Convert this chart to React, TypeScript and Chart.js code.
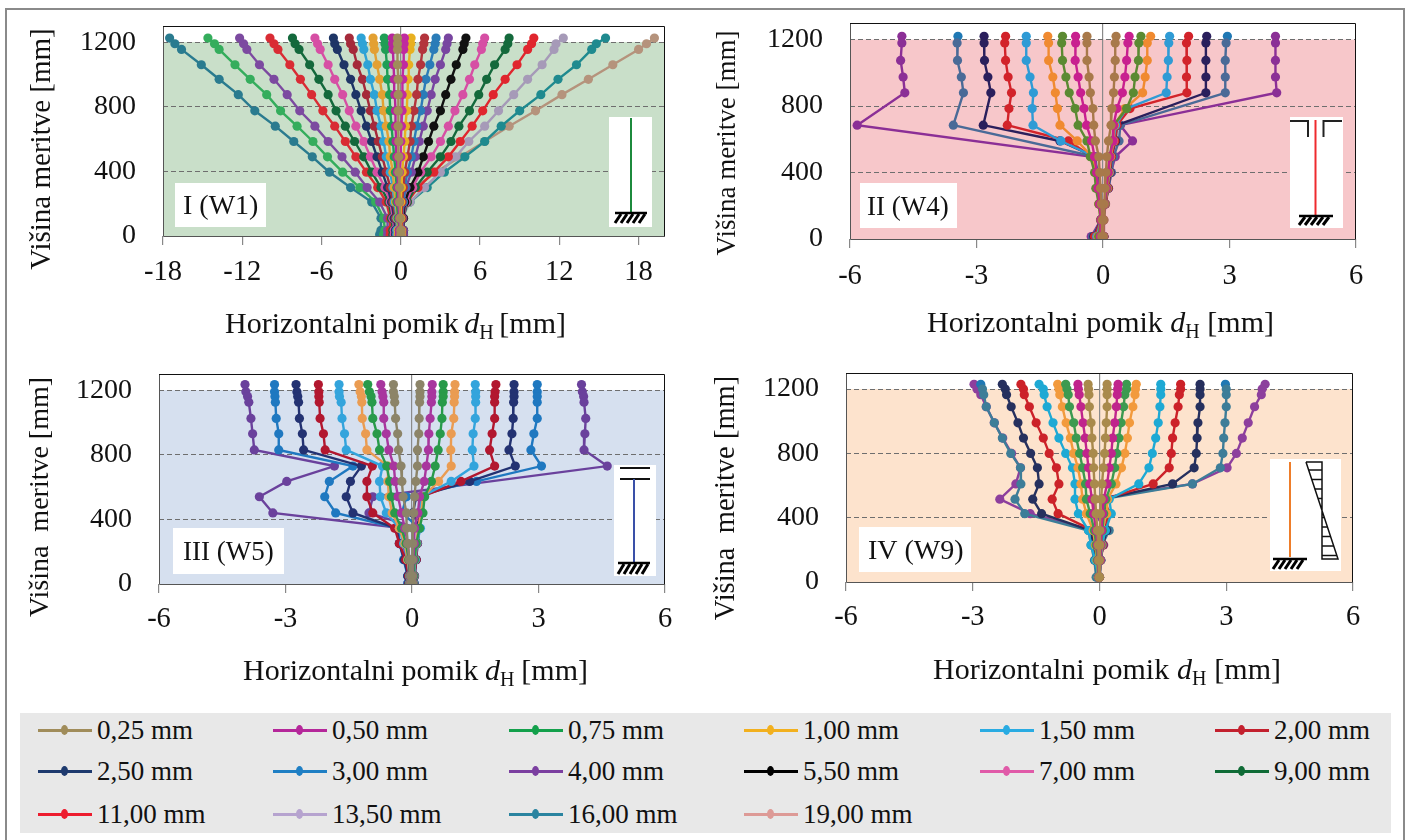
import React, { useEffect, useRef } from "react";
import { Chart, registerables } from "chart.js";

Chart.register(...registerables);

const FONT = '"Liberation Serif"';
const heightTicks = [0, 400, 800, 1200];
const ticksWide = [-18, -12, -6, 0, 6, 12, 18];
const ticksNarrow = [-6, -3, 0, 3, 6];

// ---------- Panel I (W1) ----------
const levelsI = [10, 35, 110, 210, 300, 395, 490, 585, 680, 775, 875, 970, 1060, 1155, 1190, 1225];
const I_n025 = [0, 0, -0.05, -0.1, -0.1, -0.15, -0.15, -0.15, -0.2, -0.2, -0.2, -0.2, -0.25, -0.25, -0.25, -0.25];
const I_n050 = [-0.1, -0.1, -0.1, -0.2, -0.2, -0.25, -0.3, -0.35, -0.4, -0.4, -0.45, -0.5, -0.55, -0.6, -0.62, -0.65];
const I_n075 = [-0.1, -0.1, -0.2, -0.3, -0.3, -0.4, -0.5, -0.6, -0.7, -0.8, -0.85, -1, -1.05, -1.15, -1.2, -1.25];
const I_n100 = [-0.2, -0.2, -0.25, -0.4, -0.5, -0.6, -0.8, -0.9, -1.1, -1.3, -1.4, -1.6, -1.8, -2, -2.05, -2.1];
const I_n150 = [-0.3, -0.3, -0.3, -0.5, -0.6, -0.8, -1.1, -1.3, -1.5, -1.8, -2.0, -2.3, -2.5, -2.8, -2.9, -3.0];
const I_n200 = [-0.3, -0.3, -0.4, -0.6, -0.8, -1.1, -1.4, -1.7, -2, -2.3, -2.6, -2.9, -3.3, -3.6, -3.8, -3.9];
const I_n250 = [-0.4, -0.4, -0.5, -0.7, -1, -1.4, -1.8, -2.2, -2.6, -3.0, -3.4, -3.8, -4.3, -4.8, -5.0, -5.1];
const I_n400 = [-0.5, -0.5, -0.6, -0.8, -1.2, -1.8, -2.3, -2.8, -3.4, -3.9, -4.4, -5.0, -5.5, -6.1, -6.3, -6.5];
const I_n550 = [-0.6, -0.6, -0.7, -0.9, -1.5, -2.2, -2.8, -3.5, -4.2, -4.9, -5.5, -6.2, -6.9, -7.7, -8.0, -8.2];
const I_n700 = [-0.8, -0.8, -0.8, -1.1, -1.75, -2.6, -3.4, -4.2, -5.0, -5.9, -6.75, -7.6, -8.4, -9.3, -9.6, -9.9];
const I_n900 = [-1.0, -1.0, -1.0, -1.6, -2.55, -3.45, -4.45, -5.5, -6.5, -7.65, -8.6, -9.6, -10.7, -11.65, -11.9, -12.2];
const I_n135 = [-1.3, -1.2, -1.3, -1.9, -3.1, -4.4, -5.55, -6.65, -7.85, -9.1, -10.15, -11.4, -12.55, -13.75, -14.1, -14.6];
const I_n160 = [-1.6, -1.5, -1.5, -2.2, -3.8, -5.4, -6.7, -8.1, -9.5, -11.05, -12.3, -13.75, -15.1, -16.6, -17.1, -17.5];
const I_p050 = [0, 0, -0.1, -0.1, -0.2, -0.1, 0, 0, 0.05, 0.1, 0.1, 0.15, 0.2, 0.22, 0.25, 0.27];
const I_p100 = [0.05, 0.05, 0, 0, 0.05, 0.1, 0.2, 0.3, 0.35, 0.45, 0.5, 0.55, 0.6, 0.7, 0.75, 0.78];
const I_p200 = [0.1, 0.1, 0.1, 0.1, 0.2, 0.3, 0.5, 0.7, 0.8, 1, 1.2, 1.3, 1.5, 1.65, 1.75, 1.8];
const I_p300 = [0.1, 0.1, 0.1, 0.2, 0.3, 0.5, 0.8, 1.0, 1.2, 1.5, 1.7, 1.9, 2.2, 2.5, 2.6, 2.67];
const I_p400 = [0.2, 0.2, 0.15, 0.2, 0.4, 0.8, 1.1, 1.4, 1.7, 2, 2.3, 2.6, 3, 3.4, 3.5, 3.6];
const I_p550 = [0.2, 0.2, 0.2, 0.3, 0.7, 1.3, 1.7, 2.1, 2.5, 3, 3.4, 3.8, 4.2, 4.7, 4.8, 4.93];
const I_p700 = [0.2, 0.2, 0.2, 0.4, 0.9, 1.5, 2.3, 3, 3.6, 4.1, 4.7, 5.2, 5.6, 6.1, 6.2, 6.35];
const I_p900 = [0.2, 0.2, 0.2, 0.5, 1.1, 2.0, 3.0, 3.8, 4.4, 5.2, 5.9, 6.5, 7.1, 7.9, 8.1, 8.2];
const I_p110 = [0.2, 0.1, 0.1, 0.5, 1.3, 2.5, 3.6, 4.5, 5.4, 6.2, 7, 7.9, 8.8, 9.6, 9.9, 10.07];
const I_p135 = [0.1, 0.1, 0.1, 0.7, 1.8, 3, 4.15, 5.15, 6.35, 7.4, 8.55, 9.6, 10.7, 11.6, 11.75, 12.3];
const I_p160 = [0.1, 0.1, -0.1, 0.7, 2.0, 3.3, 4.85, 6.35, 7.6, 9, 10.6, 11.9, 13.3, 14.45, 14.8, 15.5];
const I_p190 = [-0.6, -0.7, -0.75, -0.55, 1.1, 2.65, 4.5, 6.35, 8.2, 10.2, 12.2, 14.2, 16.05, 18.0, 18.6, 19.2];

// ---------- Panel II (W4) ----------
const levelsII = [1220, 1180, 1075, 975, 880, 785, 685, 590, 495, 400, 305, 210, 115, 15];
const II_n025 = [-0.38, -0.38, -0.38, -0.33, -0.3, -0.24, -0.22, -0.18, -0.1, -0.08, -0.06, -0.04, -0.02, -0.03];
const II_n050 = [-0.65, -0.65, -0.66, -0.59, -0.53, -0.45, -0.39, -0.27, -0.2, -0.15, -0.12, -0.08, -0.05, -0.06];
const II_n075 = [-0.96, -0.98, -0.96, -0.88, -0.8, -0.66, -0.59, -0.38, -0.3, -0.2, -0.17, -0.1, -0.06, -0.1];
const II_n100 = [-1.31, -1.29, -1.29, -1.19, -1.13, -1.08, -1.02, -0.61, -0.26, -0.17, -0.13, -0.1, -0.05, -0.12];
const II_n150 = [-1.82, -1.82, -1.82, -1.73, -1.65, -1.68, -1.66, -1, -0.2, -0.15, -0.12, -0.08, -0.05, -0.15];
const II_n200 = [-2.31, -2.33, -2.31, -2.25, -2.17, -2.23, -2.27, -0.82, -0.26, -0.16, -0.12, -0.08, -0.05, -0.2];
const II_n250 = [-2.82, -2.82, -2.81, -2.73, -2.66, null, -2.84, -1.02, -0.2, -0.14, -0.1, -0.08, -0.05, -0.22];
const II_n300 = [-3.44, -3.46, -3.45, -3.36, -3.31, null, -3.55, null, -0.18, -0.14, -0.1, -0.08, -0.05, -0.25];
const II_n400 = [-4.77, -4.77, -4.8, -4.74, -4.7, null, -5.83, null, -0.26, -0.14, -0.1, -0.08, -0.05, -0.28];
const II_p025 = [0.31, 0.29, 0.29, 0.27, 0.25, 0.21, 0.19, 0.13, 0.09, 0.07, 0.05, 0.03, 0.01, 0.01];
const II_p050 = [0.62, 0.59, 0.56, 0.52, 0.46, 0.33, 0.25, 0.24, 0.16, 0.12, 0.08, 0.04, 0.01, 0.01];
const II_p075 = [0.9, 0.85, 0.84, 0.76, 0.72, 0.56, 0.25, 0.22, 0.16, 0.12, 0.09, 0.05, 0.01, 0.01];
const II_p100 = [1.13, 1.05, 1.05, 1, 0.94, 0.52, 0.27, 0.25, 0.18, 0.14, 0.1, 0.05, 0.02, 0.01];
const II_p150 = [1.58, 1.56, 1.55, 1.52, 1.5, 0.56, 0.3, 0.25, 0.18, 0.15, 0.1, 0.05, 0.02, 0.01];
const II_p200 = [2.03, 1.98, 1.99, 1.98, 1.99, 0.64, 0.33, 0.28, 0.2, 0.16, 0.12, 0.06, 0.02, 0.02];
const II_p250 = [2.46, 2.44, 2.44, 2.44, 2.44, null, 0.33, 0.3, 0.2, 0.17, 0.12, 0.05, 0, 0.02];
const II_p300 = [2.95, 2.92, 2.9, 2.9, 2.9, null, 0.41, 0.38, 0.25, 0.2, 0.13, 0.06, 0, 0.02];
const II_p400 = [4.09, 4.09, 4.09, 4.09, 4.12, null, 0.41, 0.7, 0.29, 0.19, 0.13, 0.05, -0.02, 0.02];

// ---------- Panel III (W5) ----------
const levelsIII = [1235, 1190, 1160, 1125, 1025, 930, 830, 730, 635, 540, 440, 345, 250, 150, 50, 5];
const III_n025 = [-0.44, -0.44, -0.42, -0.41, -0.39, -0.34, -0.32, -0.26, -0.24, -0.21, -0.13, -0.13, -0.1, -0.06, -0.03, -0.03];
const III_n050 = [-0.74, -0.71, -0.69, -0.67, -0.67, -0.61, -0.55, -0.43, -0.4, -0.33, -0.25, -0.17, -0.1, -0.06, -0.04, -0.04];
const III_n075 = [-1.05, -1.01, -0.97, -0.95, -0.93, -0.83, -0.77, -0.6, -0.53, -0.49, -0.41, -0.25, -0.14, -0.08, -0.05, -0.05];
const III_n100 = [-1.26, -1.23, -1.2, -1.19, -1.18, -1.1, -1.07, -0.57, -0.57, -0.55, -0.47, -0.3, -0.17, -0.1, -0.05, -0.05];
const III_n150 = [-1.73, -1.73, -1.72, -1.68, -1.66, -1.6, -1.56, -0.7, -0.77, -0.75, -0.61, -0.3, -0.2, -0.1, -0.06, -0.06];
const III_n200 = [-2.22, -2.21, -2.21, -2.2, -2.18, -2.1, -2.06, -0.94, -1.07, -1.07, -0.93, -0.41, -0.3, -0.15, -0.08, -0.07];
const III_n250 = [-2.75, -2.73, -2.71, -2.69, -2.67, -2.6, -2.57, -1.2, -1.46, -1.56, -1.4, -0.37, -0.3, -0.18, -0.1, -0.08];
const III_n300 = [-3.26, -3.26, -3.25, -3.24, -3.22, -3.16, -3.16, -1.4, -1.96, -2.07, -1.81, -0.33, -0.29, -0.2, -0.1, -0.1];
const III_n400 = [-3.96, -3.94, -3.9, -3.87, -3.82, -3.78, -3.74, -1.84, -2.97, -3.62, -3.3, -0.21, -0.2, -0.15, -0.1, -0.1];
const III_p025 = [0.19, 0.19, 0.19, 0.18, 0.17, 0.16, 0.13, 0.13, 0.09, 0.06, 0.04, 0.02, 0.02, 0.01, 0.01, 0.01];
const III_p050 = [0.48, 0.47, 0.47, 0.46, 0.43, 0.4, 0.39, 0.34, 0.29, 0.18, 0.14, 0.06, 0.05, 0.03, 0.02, 0.02];
const III_p075 = [0.74, 0.74, 0.74, 0.72, 0.71, 0.67, 0.62, 0.55, 0.46, 0.3, 0.26, 0.18, 0.1, 0.06, 0.04, 0.03];
const III_p100 = [1.02, 1.01, 1.01, 1, 0.99, 0.93, 0.92, 0.93, 0.63, 0.26, 0.22, 0.15, 0.1, 0.06, 0.04, 0.03];
const III_p150 = [1.5, 1.51, 1.51, 1.51, 1.5, 1.45, 1.43, 1.47, 0.93, 0.22, 0.18, 0.2, 0.12, 0.08, 0.05, 0.04];
const III_p200 = [1.99, 1.97, 1.96, 1.96, 1.96, 1.9, 1.84, 1.96, 1.16, 0.22, 0.18, 0.17, 0.13, 0.1, 0.06, 0.04];
const III_p250 = [2.42, 2.42, 2.42, 2.41, 2.4, 2.37, 2.3, 2.45, 1.37, 0.1, 0.02, 0.18, 0.13, 0.1, 0.06, 0.05];
const III_p300 = [2.97, 2.97, 2.97, 2.97, 2.97, 2.89, 2.82, 3.07, 1.53, -0.13, -0.24, 0.18, 0.1, 0.1, 0.06, 0.05];
const III_p400 = [4.02, 4.04, 4.07, 4.08, 4.12, 4.1, 4.08, 4.63, null, -0.93, -1.02, 0.15, 0.12, 0.08, 0.05, 0];

// ---------- Panel IV (W9) ----------
const levelsIV = [1230, 1200, 1165, 1090, 990, 895, 800, 710, 610, 515, 425, 320, 230, 135, 30];
const IV_n025 = [-0.27, -0.26, -0.25, -0.24, -0.2, -0.18, -0.15, -0.14, -0.12, -0.1, -0.08, -0.05, -0.03, -0.02, -0.01];
const IV_n050 = [-0.51, -0.5, -0.48, -0.44, -0.39, -0.34, -0.3, -0.26, -0.23, -0.18, -0.14, -0.08, -0.05, -0.03, -0.02];
const IV_n075 = [-0.8, -0.77, -0.74, -0.71, -0.61, -0.55, -0.47, -0.4, -0.33, -0.31, -0.22, -0.12, -0.08, -0.05, -0.03];
const IV_n100 = [-0.99, -0.96, -0.94, -0.88, -0.79, -0.69, -0.61, -0.51, -0.44, -0.4, -0.31, -0.15, -0.1, -0.06, -0.03];
const IV_n150 = [-1.43, -1.33, -1.31, -1.24, -1.1, -0.96, -0.8, -0.64, -0.58, -0.58, -0.5, -0.26, -0.2, -0.1, -0.04];
const IV_n200 = [-1.86, -1.8, -1.78, -1.66, -1.5, -1.33, -1.19, -1.02, -0.96, -1.12, -0.98, -0.15, -0.1, -0.06, -0.03];
const IV_n250 = [-2.3, -2.23, -2.2, -2.09, -1.93, -1.8, -1.63, -1.47, -1.43, -1.58, -1.37, -0.2, -0.15, -0.1, -0.04];
const IV_n300 = [-2.81, -2.77, -2.74, -2.68, -2.49, -2.3, -2.1, -1.87, -1.86, -2, -1.77, -0.26, -0.2, -0.12, -0.08];
const IV_n400 = [-2.97, -2.9, -2.81, -2.68, -2.49, -2.29, -2.08, -1.87, -1.98, -2.36, -1.64, -0.15, -0.12, -0.1, -0.04];
const IV_p025 = [0.18, 0.18, 0.18, 0.18, 0.16, 0.14, 0.12, 0.09, 0.06, 0.04, 0.02, 0.01, 0.01, 0, 0];
const IV_p050 = [0.44, 0.43, 0.42, 0.4, 0.36, 0.31, 0.28, 0.23, 0.18, 0.1, 0.07, 0.05, 0.03, 0.02, 0];
const IV_p075 = [0.64, 0.64, 0.6, 0.57, 0.51, 0.46, 0.41, 0.36, 0.28, 0.15, 0.1, 0.07, 0.04, 0.02, 0];
const IV_p100 = [0.87, 0.85, 0.84, 0.79, 0.71, 0.66, 0.6, 0.52, 0.39, 0.19, 0.17, 0.06, 0.05, 0.02, 0];
const IV_p150 = [1.45, 1.45, 1.45, 1.43, 1.39, 1.33, 1.25, 1.17, 0.93, 0.23, 0.28, 0.14, 0.06, 0.03, 0];
const IV_p200 = [1.92, 1.92, 1.89, 1.86, 1.79, 1.73, 1.7, 1.65, 1.27, 0.12, 0.23, 0.12, 0.08, 0.03, 0];
const IV_p250 = [2.38, 2.38, 2.38, 2.38, 2.33, 2.31, 2.29, 2.24, 1.73, 0.06, 0.2, 0.17, 0.08, 0.03, 0];
const IV_p300 = [2.98, 3, 3, 3, 2.97, 2.94, 2.92, 2.86, 2.2, 0.06, 0.1, 0.23, 0.06, 0.03, 0];
const IV_p400 = [3.92, 3.85, 3.83, 3.67, 3.52, 3.38, 3.24, 3.02, 2.2, -0.15, -0.1, 0.15, 0.1, 0.01, -0.01];

// ---------- Series tables ----------
type Row = [string, string, (number | null)[], string?];
const seriesI: Row[] = [
  ["0,25 mm", "#a08c5a", I_n025],
  ["0,50 mm", "#b5279a", I_n050], ["0,50 mm", "#c02aa0", I_p050],
  ["0,75 mm", "#1f9e55", I_n075],
  ["1,00 mm", "#e3a032", I_n100], ["1,00 mm", "#e8b020", I_p100],
  ["1,50 mm", "#2ea3d6", I_n150],
  ["2,00 mm", "#a52a3a", I_n200], ["2,00 mm", "#b3343c", I_p200],
  ["3,00 mm", "#2a7cb8", I_p300],
  ["2,50 mm", "#1e3566", I_n250],
  ["4,00 mm", "#7845a0", I_p400],
  ["5,50 mm", "#111111", I_p550],
  ["7,00 mm", "#d64fa4", I_n400], ["7,00 mm", "#d64fa4", I_p700],
  ["9,00 mm", "#14693c", I_n550], ["9,00 mm", "#14693c", I_p900],
  ["11,00 mm", "#d92c34", I_n700], ["11,00 mm", "#e0262e", I_p110],
  ["13,50 mm", "#7c4aa0", I_n900], ["13,50 mm", "#a69ab8", I_p135],
  ["13,50 mm", "#34ad5c", I_n135],
  ["16,00 mm", "#2a7b8f", I_n160], ["16,00 mm", "#1f8a8f", I_p160],
  ["19,00 mm", "#b5937c", I_p190],
];
const seriesII: Row[] = [
  ["0,25 mm", "#a8794a", II_n025], ["0,25 mm", "#a8794a", II_p025],
  ["0,50 mm", "#c8208f", II_n050], ["0,50 mm", "#c8208f", II_p050],
  ["0,75 mm", "#5b8a32", II_n075], ["0,75 mm", "#5b8a32", II_p075],
  ["1,00 mm", "#f08a30", II_n100], ["1,00 mm", "#f08a30", II_p100],
  ["1,50 mm", "#2f9bd5", II_n150], ["1,50 mm", "#2f9bd5", II_p150],
  ["2,00 mm", "#d2232a", II_n200], ["2,00 mm", "#d2232a", II_p200],
  ["2,50 mm", "#2a1f5c", II_n250], ["2,50 mm", "#2a1f5c", II_p250],
  ["3,00 mm", "#4a6a97", II_n300, "#1f78b4"], ["3,00 mm", "#4a6a97", II_p300, "#1f78b4"],
  ["4,00 mm", "#8b2f96", II_n400], ["4,00 mm", "#8b2f96", II_p400],
];
const seriesIII: Row[] = [
  ["0,25 mm", "#8c8468", III_n025], ["0,25 mm", "#8c8468", III_p025],
  ["0,50 mm", "#a8369e", III_n050], ["0,50 mm", "#a8369e", III_p050],
  ["0,75 mm", "#289a4a", III_n075], ["0,75 mm", "#289a4a", III_p075],
  ["1,00 mm", "#ea9c52", III_n100], ["1,00 mm", "#ea9c52", III_p100],
  ["1,50 mm", "#33a4dc", III_n150], ["1,50 mm", "#33a4dc", III_p150],
  ["2,00 mm", "#b2172f", III_n200], ["2,00 mm", "#b2172f", III_p200],
  ["2,50 mm", "#233272", III_n250], ["2,50 mm", "#233272", III_p250],
  ["3,00 mm", "#1f78c0", III_n300], ["3,00 mm", "#1f78c0", III_p300],
  ["4,00 mm", "#6a419c", III_n400], ["4,00 mm", "#6a419c", III_p400],
];
const seriesIV: Row[] = [
  ["0,25 mm", "#a98a4c", IV_n025], ["0,25 mm", "#a98a4c", IV_p025],
  ["0,50 mm", "#c0248c", IV_n050], ["0,50 mm", "#c0248c", IV_p050],
  ["0,75 mm", "#3c9a50", IV_n075], ["0,75 mm", "#3c9a50", IV_p075],
  ["1,00 mm", "#f29a3c", IV_n100], ["1,00 mm", "#f29a3c", IV_p100],
  ["1,50 mm", "#1ea9d4", IV_n150], ["1,50 mm", "#1ea9d4", IV_p150],
  ["2,00 mm", "#cc2229", IV_n200], ["2,00 mm", "#cc2229", IV_p200],
  ["2,50 mm", "#26305e", IV_n250], ["2,50 mm", "#26305e", IV_p250],
  ["3,00 mm", "#3d7d98", IV_n300, "#1f78b4"], ["3,00 mm", "#3d7d98", IV_p300, "#1f78b4"],
  ["4,00 mm", "#8d3f9d", IV_n400], ["4,00 mm", "#8d3f9d", IV_p400],
];

// ---------- Legend ----------
const legendNames = ["0,25 mm", "0,50 mm", "0,75 mm", "1,00 mm", "1,50 mm", "2,00 mm", "2,50 mm", "3,00 mm", "4,00 mm", "5,50 mm", "7,00 mm", "9,00 mm", "11,00 mm", "13,50 mm", "16,00 mm", "19,00 mm"];
const legendColors = ["#a08c5a", "#b5279a", "#13a04b", "#f2b01e", "#29abe2", "#c3202e", "#1e3a6e", "#1f7fc4", "#7b3fa0", "#000000", "#e05aa8", "#0f6b36", "#ed1c2e", "#b6a3cf", "#2a84a0", "#dd9a96"];
const legendColumnX = [38, 273, 509, 744, 980, 1215];
const legendRowY = [730, 771, 814];

// ---------- Layout ----------
type Ctx = CanvasRenderingContext2D;
const ground = (c: Ctx, x1: number, x2: number, y1: number, y2: number) => {
  c.strokeStyle = "#000";
  c.lineWidth = 2.5;
  c.beginPath(); c.moveTo(x1, y1 + 1); c.lineTo(x2, y1 + 1); c.stroke();
  c.lineWidth = 3;
  for (let x = x1; x < x2 - 4; x += 6) {
    c.beginPath(); c.moveTo(x, y2); c.lineTo(x + 6, y1 + 2); c.stroke();
  }
};
const vline = (c: Ctx, x: number, y1: number, y2: number, col: string, w = 1.5) => {
  c.strokeStyle = col; c.lineWidth = w;
  c.beginPath(); c.moveTo(x, y1); c.lineTo(x, y2); c.stroke();
};
const hline = (c: Ctx, x1: number, x2: number, y: number, col: string, w = 2) => {
  c.strokeStyle = col; c.lineWidth = w;
  c.beginPath(); c.moveTo(x1, y); c.lineTo(x2, y); c.stroke();
};

const panels = [
  {
    rows: seriesI, levels: levelsI, min: -18, max: 20, xTicks: ticksWide,
    canvas: { l: 10, t: 12, r: 695, b: 345 }, plot: { l: 163, r: 665, t: 26, b: 236 },
    band: "#c9dfc9", label: "I (W1)", labelFont: 28, labelBox: [175, 183, 91, 44], labelX: 183,
    xTitle: [225, 341, 323], yTitle: [42, 149], yText: "Višina meritve [mm]", yFont: 29, tickPad: 10,
    inset: [609, 117, 43, 110],
    draw: (c: Ctx) => { vline(c, 631, 118, 212, "#1c8a3c", 2); ground(c, 615, 647, 212, 223); },
  },
  {
    rows: seriesII, levels: levelsII, min: -6, max: 6, xTicks: ticksNarrow,
    canvas: { l: 700, t: 12, r: 1400, b: 345 }, plot: { l: 850, r: 1356, t: 23, b: 239 },
    band: "#f7c7ca", label: "II (W4)", labelFont: 27, labelBox: [860, 183, 97, 45], labelX: 867,
    xTitle: [927, 347, 322], yTitle: [728, 143], yText: "Višina meritve [mm]", yFont: 27, tickPad: 11,
    inset: [1290, 117, 53, 111],
    draw: (c: Ctx) => {
      vline(c, 1315.5, 120, 215, "#ee2a2e", 2);
      hline(c, 1290, 1308, 121, "#222"); vline(c, 1308, 120, 137, "#222", 2);
      hline(c, 1323, 1342, 121, "#222"); vline(c, 1323.5, 120, 137, "#222", 2);
      ground(c, 1299, 1333, 215, 225);
    },
  },
  {
    rows: seriesIII, levels: levelsIII, min: -6, max: 6, xTicks: ticksNarrow,
    canvas: { l: 10, t: 350, r: 695, b: 700 }, plot: { l: 159, r: 665, t: 374, b: 584 },
    band: "#d6e0ef", label: "III (W5)", labelFont: 27, labelBox: [173, 528, 111, 46], labelX: 183,
    xTitle: [243, 345, 670], yTitle: [41, 497], yText: "Višina  meritve [mm]", yFont: 28, tickPad: 9,
    inset: [614, 465, 42, 111],
    draw: (c: Ctx) => {
      hline(c, 620, 650, 468, "#111"); hline(c, 620, 650, 479, "#111");
      vline(c, 634, 479, 562, "#3a50a8", 2);
      ground(c, 618, 650, 562, 574);
    },
  },
  {
    rows: seriesIV, levels: levelsIV, min: -6, max: 6, xTicks: ticksNarrow,
    canvas: { l: 700, t: 350, r: 1400, b: 700 }, plot: { l: 846, r: 1353, t: 373, b: 582 },
    band: "#fde3cd", label: "IV (W9)", labelFont: 28, labelBox: [859, 527, 112, 45], labelX: 868,
    xTitle: [933, 348, 669], yTitle: [727, 498], yText: "Višina  meritve [mm]", yFont: 28.5, tickPad: 9,
    inset: [1270, 459, 71, 112],
    draw: (c: Ctx) => {
      vline(c, 1290, 462, 557, "#ee7d2a", 2);
      ground(c, 1273, 1307, 558, 569);
      c.strokeStyle = "#111"; c.lineWidth = 1.5;
      c.beginPath(); c.moveTo(1306, 462); c.lineTo(1322, 462); c.lineTo(1322, 559); c.lineTo(1338, 559); c.lineTo(1306, 462); c.stroke();
      for (let y = 470; y < 558; y += 9.5) {
        const dx = 1306 + ((y - 462) * 32) / 97;
        c.beginPath(); c.moveTo(Math.min(dx, 1322), y); c.lineTo(Math.max(dx, 1322), y); c.stroke();
      }
    },
  },
];

function drawText(c: Ctx, text: string, x: number, y: number, font: string) {
  c.font = font;
  c.fillText(text, x, y);
  return c.measureText(text).width;
}

function makeChart(canvas: HTMLCanvasElement, p: (typeof panels)[number]) {
  const { canvas: box, plot } = p;
  const decor = {
    id: "decor",
    beforeDraw(chart: any) {
      const c: Ctx = chart.ctx;
      const y = chart.scales.y;
      const a = chart.chartArea;
      c.save();
      c.fillStyle = p.band;
      c.fillRect(a.left, y.getPixelForValue(1200), a.right - a.left, a.bottom - y.getPixelForValue(1200));
      c.restore();
    },
    beforeDatasetsDraw(chart: any) {
      const c: Ctx = chart.ctx;
      const a = chart.chartArea;
      c.save();
      c.translate(-box.l, -box.t);
      c.fillStyle = "#fff";
      const [bx, by, bw, bh] = p.labelBox;
      c.fillRect(bx, by, bw, bh);
      const [ix, iy, iw, ih] = p.inset;
      c.fillRect(ix, iy, iw, ih);
      p.draw(c);
      c.restore();
      c.save();
      c.strokeStyle = "#555";
      c.lineWidth = 1;
      c.beginPath();
      c.moveTo(a.left + 0.5, a.top); c.lineTo(a.left + 0.5, a.bottom + 0.5); c.lineTo(a.right, a.bottom + 0.5);
      c.stroke();
      c.strokeStyle = "#111";
      c.beginPath();
      c.moveTo(a.left, a.top + 0.5); c.lineTo(a.right - 0.5, a.top + 0.5); c.lineTo(a.right - 0.5, a.bottom);
      c.stroke();
      c.restore();
    },
    afterDraw(chart: any) {
      const c: Ctx = chart.ctx;
      c.save();
      c.translate(-box.l, -box.t);
      c.fillStyle = "#111";
      c.textBaseline = "alphabetic";
      c.textAlign = "left";
      const [, by, , bh] = p.labelBox;
      c.font = `${p.labelFont}px ${FONT}`;
      c.fillText(p.label, p.labelX, by + bh / 2 + 9);
      const [tx, tw, ty] = p.xTitle;
      const main = `30px ${FONT}`;
      const ital = `italic 30px ${FONT}`;
      const sub = `20px ${FONT}`;
      const parts = ["Horizontalni", "pomik"];
      c.font = main;
      const w0 = c.measureText(parts[0]).width;
      const w1 = c.measureText(parts[1]).width;
      const w4 = c.measureText("[mm]").width;
      c.font = ital;
      const wd = c.measureText("d").width;
      c.font = sub;
      const wh = c.measureText("H").width;
      const gap = (tw - w0 - w1 - wd - wh - w4) / 3;
      const base = ty + 10;
      let x = tx;
      x += drawText(c, parts[0], x, base, main) + gap;
      x += drawText(c, parts[1], x, base, main) + gap;
      x += drawText(c, "d", x, base, ital);
      x += drawText(c, "H", x, base + 6, sub) + gap;
      drawText(c, "[mm]", x, base, main);
      c.translate(p.yTitle[0], p.yTitle[1]);
      c.rotate(-Math.PI / 2);
      c.textAlign = "center";
      c.textBaseline = "middle";
      c.font = `${p.yFont}px ${FONT}`;
      c.fillText(p.yText, 0, 0);
      c.restore();
    },
  };
  return new Chart(canvas, {
    type: "line",
    plugins: [decor],
    data: {
      datasets: p.rows.map(([label, color, xs, topColor]) => ({
        label,
        data: xs
          .map((x, i) => ({ x, y: p.levels[i] }))
          .filter((d) => d.x !== null),
        borderColor: color,
        backgroundColor: color,
        pointBackgroundColor: (ctx: any) => (topColor && ctx.dataIndex === 0 ? topColor : color),
        borderWidth: 2.4,
        pointRadius: 4.6,
        pointBorderWidth: 0,
        tension: 0,
      })),
    } as any,
    options: {
      responsive: false,
      animation: false,
      parsing: { xAxisKey: "x", yAxisKey: "y" },
      layout: {
        autoPadding: false,
        padding: { left: 0, top: plot.t - box.t, right: box.r - plot.r, bottom: 0 },
      },
      plugins: { legend: { display: false }, tooltip: { enabled: false }, title: { display: false } },
      scales: {
        x: {
          type: "linear",
          min: p.min,
          max: p.max,
          border: { display: false },
          grid: {
            drawTicks: true,
            tickLength: 9,
            tickColor: "#888",
            color: (ctx: any) => (ctx.tick && ctx.tick.value === 0 ? "#8a8a8a" : "rgba(0,0,0,0)"),
            lineWidth: 1.2,
          },
          ticks: {
            padding: p.tickPad,
            maxRotation: 0,
            autoSkip: false,
            color: "#111",
            font: { family: FONT, size: 28.5 },
            callback: (v: any) => String(v),
          },
          afterBuildTicks: (s: any) => { s.ticks = p.xTicks.map((value) => ({ value })); },
          afterFit: (s: any) => { s.height = box.b - plot.b; s.paddingLeft = 0; s.paddingRight = 0; },
        },
        y: {
          type: "linear",
          min: 0,
          max: 1300,
          border: { display: false, dash: [5, 3] },
          grid: {
            drawTicks: false,
            color: (ctx: any) => (ctx.tick && ctx.tick.value > 0 ? "#6e6e6e" : "rgba(0,0,0,0)"),
            lineWidth: 1,
          },
          ticks: {
            padding: 27,
            autoSkip: false,
            color: "#111",
            font: { family: FONT, size: 28 },
            callback: (v: any) => String(v),
          },
          afterBuildTicks: (s: any) => { s.ticks = heightTicks.map((value) => ({ value })); },
          afterFit: (s: any) => { s.width = plot.l - box.l; s.paddingTop = 0; s.paddingBottom = 0; },
        },
      },
    } as any,
  });
}

function Panel({ p }: { p: (typeof panels)[number] }) {
  const ref = useRef<HTMLCanvasElement>(null);
  useEffect(() => {
    const chart = makeChart(ref.current!, p);
    return () => chart.destroy();
  }, [p]);
  const { canvas: b } = p;
  return (
    <canvas
      ref={ref}
      width={b.r - b.l}
      height={b.b - b.t}
      style={{ position: "absolute", left: b.l, top: b.t, width: b.r - b.l, height: b.b - b.t }}
    />
  );
}

function LegendItem({ name, color, x, y }: { name: string; color: string; x: number; y: number }) {
  return (
    <>
      <div style={{ position: "absolute", left: x, top: y - 1.5, width: 54, height: 3, background: color }} />
      <div style={{ position: "absolute", left: x + 23, top: y - 5, width: 7, height: 10, borderRadius: "50%", background: color }} />
      <div
        style={{
          position: "absolute", left: x + 59, top: y - 16, height: 32, lineHeight: "32px",
          fontFamily: FONT, fontSize: 27, color: "#111", whiteSpace: "nowrap",
        }}
      >
        {name}
      </div>
    </>
  );
}

export default function App() {
  return (
    <div>
      <div
        style={{
          position: "absolute", left: 5, top: 8, width: 1400, height: 832, boxSizing: "border-box",
          borderLeft: "2px solid #8a8a8a", borderTop: "2px solid #8a8a8a", borderRight: "2px solid #8a8a8a",
        }}
      />
      <div style={{ position: "absolute", left: 20, top: 713, width: 1371, height: 120, background: "#e8e8e8" }} />
      {panels.map((p, i) => <Panel key={i} p={p} />)}
      {legendNames.map((n, i) => (
        <LegendItem key={n} name={n} color={legendColors[i]} x={legendColumnX[i % 6]} y={legendRowY[Math.floor(i / 6)]} />
      ))}
    </div>
  );
}
